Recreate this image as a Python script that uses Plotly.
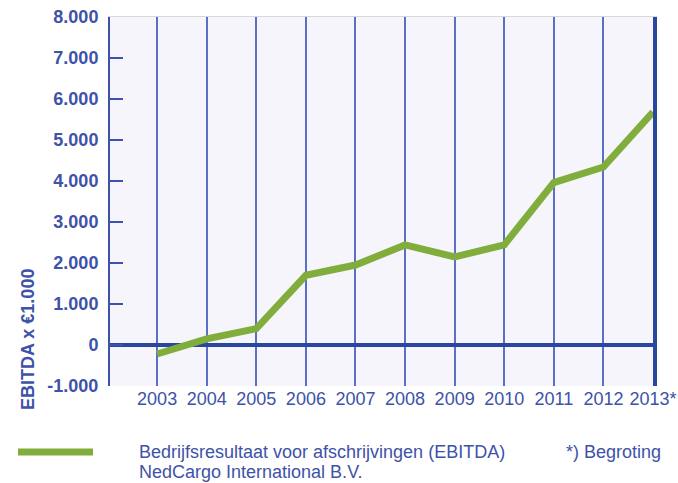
import plotly.graph_objects as go

years = [2003, 2004, 2005, 2006, 2007, 2008, 2009, 2010, 2011, 2012, 2013]
year_labels = ["2003", "2004", "2005", "2006", "2007", "2008", "2009", "2010", "2011", "2012", "2013*"]
ebitda = [-220, 150, 400, 1700, 1950, 2440, 2150, 2440, 3960, 4340, 5680]
y_ticks = [-1000, 0, 1000, 2000, 3000, 4000, 5000, 6000, 7000, 8000]
y_tick_labels = ["-1.000", "0", "1.000", "2.000", "3.000", "4.000", "5.000", "6.000", "7.000", "8.000"]

series_lines = ["Bedrijfsresultaat voor afschrijvingen (EBITDA)", "NedCargo International B.V."]
note = "*) Begroting"
y_title = "EBITDA x €1.000"

GREEN = "#80ad3c"
BLUE = "#3d52a8"
GRID = "#5b6fc6"
DARK = "#2a47a0"
FONT = "Liberation Sans, Arial, sans-serif"

fig = go.Figure()
fig.add_trace(go.Scatter(
    x=years, y=ebitda, mode="lines", name=" ".join(series_lines),
    line=dict(color=GREEN, width=7), showlegend=False,
))
# invisible trace to activate right/top border axes
fig.add_trace(go.Scatter(x=[years[0]], y=[0], xaxis="x2", yaxis="y2",
                         mode="markers", marker=dict(opacity=0), showlegend=False, hoverinfo="skip"))

fig.update_layout(
    width=678, height=483,
    margin=dict(l=110, r=25, t=17, b=97, autoexpand=False),
    paper_bgcolor="white",
    plot_bgcolor="#f5f5fb",
    font=dict(family=FONT, color=BLUE),
    xaxis=dict(
        range=[2002.05, 2013], tickvals=years, ticktext=year_labels,
        showgrid=True, gridcolor=GRID, gridwidth=2, automargin=False,
        showline=False, ticks="", zeroline=False, ticklabeloverflow="allow",
        tickfont=dict(size=18, color=BLUE, family=FONT),
    ),
    yaxis=dict(
        range=[-1000, 8000], tickvals=y_ticks, ticktext=y_tick_labels,
        showgrid=False, zeroline=True, zerolinecolor=DARK, zerolinewidth=4,
        showline=True, linecolor=BLUE, linewidth=2, automargin=False,
        ticks="inside", ticklen=13, tickwidth=2, tickcolor=BLUE,
        ticklabelstandoff=6, ticklabeloverflow="allow",
        tickfont=dict(size=18, color=BLUE, family=FONT, weight="bold"),
    ),
    xaxis2=dict(overlaying="x", side="top", range=[2002.05, 2013], showgrid=False, automargin=False,
                showticklabels=False, showline=True, linecolor="#d8d8d8", linewidth=1, zeroline=False),
    yaxis2=dict(overlaying="y", side="right", range=[-1000, 8000], showgrid=False, automargin=False,
                showticklabels=False, showline=True, linecolor=DARK, linewidth=4, zeroline=False),
    showlegend=False,
)

# legend sample and notes (screen positions converted to paper units of the plot area)
fig.add_shape(type="line", xref="paper", yref="paper",
              x0=(18 - 110) / 543, x1=(93 - 110) / 543,
              y0=(386 - 452) / 369, y1=(386 - 452) / 369,
              line=dict(color=GREEN, width=7))
for i, line_text in enumerate(series_lines):
    fig.add_annotation(xref="paper", yref="paper", x=(137 - 110) / 543, y=(386 - (452 + 20 * i)) / 369,
                       xanchor="left", yanchor="middle", align="left", showarrow=False,
                       text=line_text, font=dict(size=18, color=BLUE, family=FONT))
fig.add_annotation(xref="paper", yref="paper", x=(564 - 110) / 543, y=(386 - 452) / 369,
                   xanchor="left", yanchor="middle", align="left", showarrow=False,
                   text=note, font=dict(size=18, color=BLUE, family=FONT))
fig.add_annotation(xref="paper", yref="paper", x=(28 - 110) / 543, y=(386 - 340) / 369,
                   xanchor="center", yanchor="middle", textangle=-90, showarrow=False,
                   text=y_title, font=dict(size=18, color=BLUE, family=FONT, weight="bold"))

fig.write_html("out.html", config={"displayModeBar": False},
               post_script="document.body.style.margin='0';document.body.style.overflow='hidden';")
